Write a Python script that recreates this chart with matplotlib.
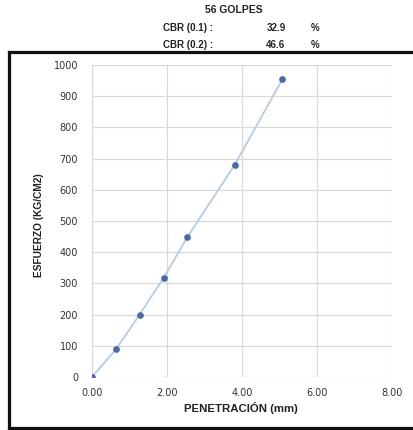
import matplotlib.pyplot as plt
from matplotlib.lines import Line2D

# Penetration (mm) vs stress (kg/cm2), 56 blows
penetracion = [0.00, 0.64, 1.27, 1.91, 2.54, 3.81, 5.08]
esfuerzo = [0, 89, 200, 318, 448, 681, 955]

cbr_labels = ['CBR (0.1) :', 'CBR (0.2) :']
cbr_values = ['32.9', '46.6']
titulo = '56 GOLPES'

x_ticks = [0, 2, 4, 6, 8]
y_ticks = [0, 100, 200, 300, 400, 500, 600, 700, 800, 900, 1000]

W, H = 414, 430


def main():
    plt.rcParams['font.family'] = ['Liberation Sans', 'DejaVu Sans']
    fig = plt.figure(figsize=(W / 100, H / 100), dpi=100)
    fig.patch.set_facecolor('white')

    # header
    fig.text(234 / W, 1 - 10 / H, titulo, ha='center', va='center',
             fontsize=7.5, fontweight='bold', color='#222222')
    for i, (lab, val) in enumerate(zip(cbr_labels, cbr_values)):
        yy = 1 - (28 + 17 * i) / H
        fig.text(163 / W, yy, lab, ha='left', va='center',
                 fontsize=7, fontweight='bold', color='#222222')
        fig.text(276 / W, yy, val, ha='center', va='center',
                 fontsize=7, fontweight='bold', color='#222222')
        fig.text(315 / W, yy, '%', ha='center', va='center',
                 fontsize=7, fontweight='bold', color='#222222')

    # thick frame around the chart
    x0, y_top, y_bot = 9 / W, 1 - 52 / H, 1 - 428 / H
    for xs, ys in [([x0, 1], [y_top, y_top]),
                   ([x0, x0], [y_top, y_bot]),
                   ([x0, 1], [y_bot, y_bot])]:
        fig.add_artist(Line2D(xs, ys, transform=fig.transFigure,
                              color='#111111', lw=2.3,
                              solid_capstyle='projecting'))

    ax = fig.add_axes([92 / W, 1 - 377 / H, 300 / W, 312 / H])
    ax.plot(penetracion, esfuerzo, color='#b4cce6', lw=1.3, zorder=2)
    ax.plot(penetracion, esfuerzo, 'o', color='#4a6aa5', ms=3.8,
            mec='#4a6aa5', zorder=3)

    ax.set_xlim(0, 8)
    ax.set_ylim(0, 1000)
    ax.set_xticks(x_ticks)
    ax.set_xticklabels(['%.2f' % t for t in x_ticks])
    ax.set_yticks(y_ticks)
    ax.grid(True, color='#d9d9d9', lw=0.9, zorder=0)
    for s in ax.spines.values():
        s.set_visible(False)
    ax.tick_params(axis='both', length=0, labelsize=7,
                   colors='#333333')
    for lbl in ax.get_xticklabels() + ax.get_yticklabels():
        lbl.set_family('DejaVu Sans')
    ax.tick_params(axis='y', pad=10)
    ax.tick_params(axis='x', pad=8)

    ax.set_xlabel('PENETRACIÓN (mm)', fontsize=8.2, fontweight='bold',
                  color='#222222')
    ax.set_ylabel('ESFUERZO (KG/CM2)', fontsize=7.3, fontweight='bold',
                  color='#222222')
    ax.yaxis.set_label_coords(-(92 - 39) / 300, (377 - 225) / 312)
    ax.xaxis.set_label_coords((241 - 92) / 300, -(408 - 377) / 312)
    ax.xaxis.label.set_va('center')
    ax.yaxis.label.set_va('center')

    fig.savefig('out.png', dpi=100, facecolor='white')


if __name__ == '__main__':
    main()
